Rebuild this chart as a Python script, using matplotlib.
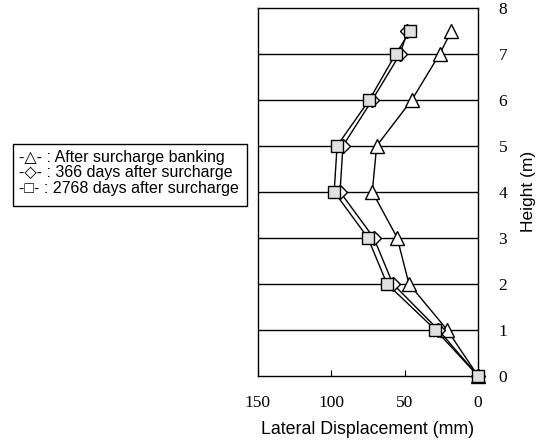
import numpy as np
import matplotlib.pyplot as plt

# ==== data ====
height_m = [0, 1, 2, 3, 4, 5, 6, 7, 7.5]
disp_banking = [0, 21, 47, 55, 72, 69, 45, 26, 18]
disp_366 = [0, 27, 58, 71, 94, 92, 72, 53, 48]
disp_2768 = [0, 29, 62, 75, 98, 96, 74, 56, 46]

legend_lines = [
    "-\u25b3- : After surcharge banking",
    "-\u25c7- : 366 days after surcharge",
    "-\u25a1- : 2768 days after surcharge",
]
xticks = [150, 100, 50, 0]
yticks = list(range(0, 9))

fig = plt.figure(figsize=(5.43, 4.42), dpi=100)
ax = fig.add_axes([0.475, 0.150, 0.405, 0.832])

ax.plot(disp_banking, height_m, color="black", lw=1, marker="^", ms=10,
        mfc="white", mec="black", mew=1, zorder=3, clip_on=False)
ax.plot(disp_366, height_m, color="black", lw=1, marker="D", ms=7,
        mfc="white", mec="black", mew=1, zorder=4, clip_on=False)
ax.plot(disp_2768, height_m, color="black", lw=1, marker="s", ms=9,
        mfc="#e0e0e0", mec="black", mew=1, zorder=5, clip_on=False)

ax.set_xlim(150, 0)
ax.set_ylim(0, 8)
ax.set_xticks(xticks)
ax.set_yticks(yticks)
for y in yticks[1:-1]:
    ax.axhline(y, color="black", lw=1, zorder=1)

ax.yaxis.tick_right()
ax.yaxis.set_label_position("right")
ax.tick_params(axis="x", direction="in", length=4, pad=14)
ax.tick_params(axis="y", length=0, pad=15)
for lab in ax.get_xticklabels() + ax.get_yticklabels():
    lab.set_fontfamily("Liberation Serif")
    lab.set_fontsize(12.5)

ax.set_xlabel("Lateral Displacement (mm)", fontfamily="Liberation Sans",
              fontsize=12.8, labelpad=7)
ax.set_ylabel("Height (m)", fontfamily="Liberation Sans", fontsize=12.5,
              labelpad=10)

for sp in ax.spines.values():
    sp.set_linewidth(1)

# legend box drawn as text lines
fig.patches.append(plt.Rectangle((13 / 543, 1 - 205.5 / 442), 234 / 543, 61.5 / 442,
                                 transform=fig.transFigure, fill=False,
                                 edgecolor="black", lw=1))
for i, t in enumerate(legend_lines):
    fig.text(19 / 543, 1 - (157.5 + 15.5 * i) / 442, t, va="center", ha="left",
             fontsize=11.5, family=["Liberation Sans", "DejaVu Sans"])

fig.savefig("out.png", dpi=100)
